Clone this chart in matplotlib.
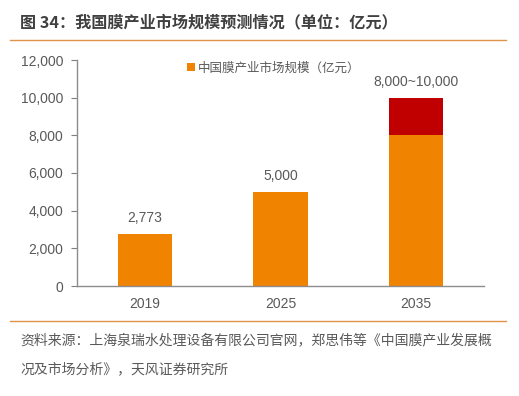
import matplotlib.pyplot as plt
from matplotlib.ticker import FuncFormatter

plt.rcParams['font.family'] = ['Noto Sans CJK SC', 'DejaVu Sans']
num_font = ['Liberation Sans', 'Noto Sans CJK SC']

years = ['2019', '2025', '2035']
base_values = [2773, 5000, 8000]
upper_extra = [0, 0, 2000]
value_labels = ['2,773', '5,000', '8,000~10,000']
legend_label = '中国膜产业市场规模（亿元）'
title = '图 34：我国膜产业市场规模预测情况（单位：亿元）'
source_1 = '资料来源：上海泉瑞水处理设备有限公司官网，郑思伟等《中国膜产业发展概'
source_2 = '况及市场分析》，天风证券研究所'

orange = '#F08300'
red = '#C00000'
gray = '#595959'
W, H = 519, 396

fig = plt.figure(figsize=(W / 100, H / 100), dpi=100)
ax = fig.add_axes([77 / W, 1 - 286 / H, (484 - 77) / W, 226 / H])

x = range(len(years))
ax.bar(x, base_values, width=0.4, color=orange, label=legend_label)
ax.bar(x, upper_extra, width=0.4, bottom=base_values, color=red)
for i, lab in enumerate(value_labels):
    top = base_values[i] + upper_extra[i]
    ax.text(i, top + 450, lab, ha='center', va='bottom', fontsize=10, color=gray, family=num_font)

ax.set_xlim(-0.5, 2.5)
ax.set_ylim(0, 12000)
ax.set_yticks(range(0, 12001, 2000))
ax.yaxis.set_major_formatter(FuncFormatter(lambda v, p: f'{int(v):,}'))
ax.set_xticks(list(x))
ax.set_xticklabels(years)
for t in ax.get_xticklabels() + ax.get_yticklabels():
    t.set_family(num_font)
ax.tick_params(axis='y', length=4, color='#7f7f7f', labelsize=10, labelcolor=gray, pad=6)
ax.tick_params(axis='x', length=0, labelsize=10, labelcolor=gray, pad=8)
for s in ['top', 'right']:
    ax.spines[s].set_visible(False)
for s in ['left', 'bottom']:
    ax.spines[s].set_color('#8c8c8c')
    ax.spines[s].set_linewidth(1.0)

handles, labels = ax.get_legend_handles_labels()
fig.legend(handles[:1], labels[:1], loc='center left', bbox_to_anchor=(187 / W, 1 - 68 / H),
           frameon=False, fontsize=9, labelcolor=gray, handlelength=0.6, handleheight=0.6,
           handletextpad=0.3, borderaxespad=0, borderpad=0)

fig.text(20 / W, 1 - 22 / H, title, fontsize=11.6, fontweight='bold', color='#404040', va='center')
fig.add_artist(plt.Line2D([10 / W, 506 / W], [1 - 40 / H, 1 - 40 / H], color='#E0934A', lw=1))
fig.add_artist(plt.Line2D([10 / W, 506 / W], [1 - 321 / H, 1 - 321 / H], color='#E0934A', lw=1))
fig.text(20 / W, 1 - 340 / H, source_1, fontsize=10, color=gray, va='center')
fig.text(20 / W, 1 - 369 / H, source_2, fontsize=10, color=gray, va='center')

fig.savefig('out.png', dpi=100)
